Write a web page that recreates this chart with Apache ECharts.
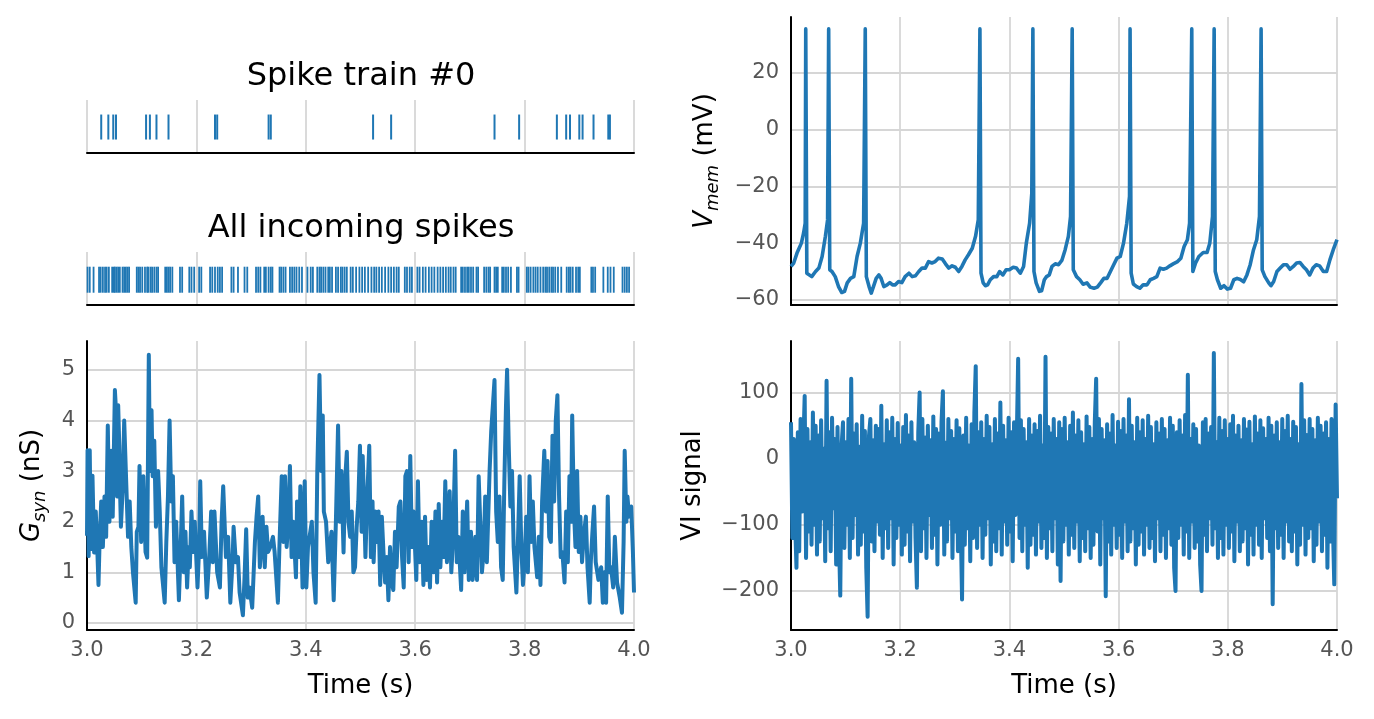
<!DOCTYPE html>
<html><head><meta charset="utf-8">
<script src="https://cdn.jsdelivr.net/npm/echarts@6/dist/echarts.min.js"></script>
<style>html,body{margin:0;padding:0;background:#fff}#c{width:1374px;height:719px}</style>
</head><body><div id="c"></div>
<script>
// ---------- DATA ----------
const xTicks = [3.0, 3.2, 3.4, 3.6, 3.8, 4.0];
const titles = ["Spike train #0", "All incoming spikes"];

const train0 = [3.026, 3.039, 3.048, 3.053, 3.108, 3.115, 3.127, 3.149, 3.234, 3.238, 3.332, 3.336,
  3.523, 3.556, 3.745, 3.790, 3.859, 3.876, 3.883, 3.900, 3.906, 3.926, 3.953, 3.956];

const incoming = [3.001, 3.005, 3.012, 3.022, 3.025, 3.029, 3.033, 3.036, 3.040, 3.046, 3.049, 3.051, 3.054,
  3.057, 3.060, 3.065, 3.068, 3.071, 3.074, 3.077, 3.091, 3.094, 3.097, 3.101, 3.106, 3.110, 3.112, 3.116,
  3.119, 3.123, 3.127, 3.130, 3.143, 3.146, 3.149, 3.152, 3.156, 3.170, 3.174, 3.187, 3.191, 3.196, 3.205,
  3.209, 3.225, 3.229, 3.234, 3.239, 3.243, 3.247,
  3.264, 3.268, 3.276, 3.288, 3.293, 3.309, 3.313, 3.317, 3.324, 3.327, 3.332, 3.336, 3.339, 3.352, 3.355,
  3.359, 3.363, 3.371, 3.375, 3.379, 3.383, 3.388, 3.393, 3.403, 3.409, 3.413, 3.421, 3.425, 3.428, 3.432,
  3.436, 3.441, 3.444, 3.448, 3.455, 3.459, 3.464, 3.467, 3.471, 3.475, 3.482, 3.486, 3.492, 3.498,
  3.503, 3.508, 3.514, 3.520, 3.525, 3.529, 3.534, 3.539, 3.545, 3.551, 3.556, 3.561, 3.566, 3.570, 3.581,
  3.585, 3.590, 3.594, 3.604, 3.608, 3.614, 3.619, 3.625, 3.630, 3.635, 3.641, 3.646, 3.651, 3.656, 3.661,
  3.665, 3.670, 3.674, 3.684, 3.687, 3.691, 3.695, 3.698, 3.702, 3.706, 3.712, 3.715, 3.726, 3.730, 3.734,
  3.737, 3.745, 3.748,
  3.751, 3.759, 3.762, 3.766, 3.770, 3.775, 3.786, 3.789, 3.804, 3.807, 3.811, 3.816, 3.820, 3.824, 3.829,
  3.834, 3.838, 3.841, 3.845, 3.849, 3.852, 3.856, 3.861, 3.867, 3.877, 3.881, 3.884, 3.888, 3.894, 3.898,
  3.901, 3.922, 3.925, 3.929, 3.944, 3.952, 3.957, 3.963, 3.979, 3.983, 3.987, 3.991];

const gsynT = [3.000,3.001,3.003,3.005,3.007,3.010,3.013,3.016,3.019,3.021,3.023,3.026,3.029,3.032,3.035,3.038,3.041,3.044,3.047,3.051,
  3.053,3.055,3.057,3.059,3.060,3.062,3.065,3.068,3.071,3.075,3.078,3.081,3.084,3.089,3.091,3.094,3.096,3.099,3.103,3.107,
  3.110,3.113,3.115,3.118,3.120,3.123,3.126,3.130,3.133,3.136,3.142,3.145,3.148,3.151,3.154,3.157,3.160,3.163,3.168,3.171,
  3.174,3.177,3.180,3.183,3.186,3.188,3.191,3.194,3.197,3.202,3.205,3.207,3.210,3.214,3.219,3.223,3.227,3.230,3.233,3.238,
  3.243,3.246,3.249,3.254,3.258,3.262,3.266,3.268,3.272,3.276,3.279,3.285,3.288,3.291,3.294,3.297,3.302,3.307,3.310,3.313,
  3.316,3.319,3.321,3.325,3.328,3.331,3.335,3.340,3.343,3.349,3.352,3.356,3.359,3.362,3.365,3.368,3.371,3.374,3.377,3.382,
  3.384,3.388,3.390,3.394,3.398,3.401,3.404,3.407,3.411,3.414,3.418,3.421,3.425,3.428,3.431,3.433,3.437,3.441,3.444,3.447,
  3.451,3.455,3.459,3.462,3.465,3.469,3.472,3.475,3.478,3.481,3.484,3.487,3.490,3.493,3.496,3.499,3.502,3.504,3.507,3.509,
  3.512,3.516,3.519,3.522,3.524,3.527,3.530,3.533,3.536,3.539,3.542,3.545,3.548,3.551,3.554,3.557,3.560,3.563,3.566,3.570,
  3.573,3.576,3.579,3.582,3.585,3.588,3.591,3.594,3.597,3.602,3.605,3.608,3.612,3.615,3.618,3.621,3.624,3.627,3.630,3.634,
  3.637,3.640,3.643,3.646,3.649,3.652,3.655,3.658,3.663,3.666,3.669,3.673,3.676,3.679,3.684,3.687,3.690,3.695,3.698,3.702,
  3.705,3.710,3.713,3.716,3.719,3.722,3.725,3.728,3.731,3.736,3.739,3.742,3.745,3.748,3.751,3.754,3.757,3.760,3.763,3.766,
  3.768,3.771,3.774,3.777,3.780,3.785,3.788,3.791,3.794,3.797,3.800,3.803,3.806,3.809,3.812,3.815,3.818,3.823,3.826,3.829,
  3.832,3.836,3.839,3.842,3.845,3.848,3.851,3.854,3.857,3.860,3.863,3.866,3.869,3.873,3.876,3.879,3.882,3.885,3.887,3.890,
  3.893,3.896,3.899,3.902,3.905,3.908,3.912,3.915,3.919,3.921,3.924,3.927,3.930,3.935,3.940,3.943,3.946,3.949,3.952,3.955,
  3.958,3.962,3.965,3.969,3.974,3.978,3.981,3.983,3.986,3.988,3.991,3.995,3.998,4.000];
const gsynV = [1.72,3.41,1.32,3.41,1.46,2.91,1.39,2.2,1.4,0.75,1.6,2.4,1.5,2.5,1.7,3.9,2.0,3.4,2.1,4.6,
  4.2,2.5,4.3,3.5,2.8,1.9,2.6,4.0,3.0,1.7,2.4,1.5,1.0,0.4,1.8,1.9,3.1,1.6,2.9,1.4,
  1.29,5.3,3.0,4.2,2.9,3.6,1.9,3.0,2.2,1.1,0.4,1.6,2.5,4.0,2.4,2.9,1.2,2.0,0.45,1.4,
  2.5,1.0,1.8,0.7,1.5,1.1,2.2,1.4,2.0,0.7,1.5,2.8,1.3,1.8,0.5,1.2,2.2,1.2,2.2,1.0,
  0.7,2.0,2.7,1.3,1.7,0.4,1.2,1.9,1.2,1.3,0.6,0.15,0.9,1.85,0.5,0.7,0.3,1.6,2.1,2.5,
  1.1,1.6,2.1,1.1,1.9,1.4,1.5,1.7,1.4,0.4,1.6,2.9,1.6,2.9,1.5,2.0,3.1,1.3,2.0,0.9,
  2.4,1.3,2.7,0.7,2.8,0.7,1.5,1.5,2.0,1.0,0.4,3.0,4.9,3.0,4.1,2.2,2.0,1.2,1.2,1.8,
  0.45,2.0,3.9,2.0,3.0,1.39,2.85,3.38,2.0,1.7,2.2,1.0,1.1,1.9,2.4,3.5,1.8,3.3,2.2,1.3,
  2.4,3.5,1.3,2.4,1.2,2.2,1.6,2.2,0.75,2.1,1.4,0.8,1.3,0.45,1.5,0.8,0.65,1.8,1.1,2.3,
  2.4,1.3,0.7,2.9,3.0,1.2,3.3,1.5,2.2,0.85,2.8,1.2,2.0,0.75,2.1,0.85,1.5,0.7,2.0,1.0,
  2.2,0.8,2.35,1.1,2.0,1.3,2.8,1.2,2.6,1.0,1.6,3.4,1.2,1.7,0.65,2.2,1.0,2.4,0.85,1.8,
  0.85,1.7,0.85,2.9,2.9,1.0,1.4,2.5,1.2,3.0,3.8,4.3,4.8,2.2,1.6,2.5,1.1,0.85,2.8,4.3,
  5.0,3.5,2.3,3.0,1.5,0.6,1.7,2.9,1.5,0.75,1.2,2.1,1.0,2.9,1.6,2.4,1.5,0.9,1.7,0.75,
  2.4,3.4,2.2,3.2,1.7,1.6,3.7,2.4,4.0,4.5,2.5,1.3,1.4,0.8,2.2,1.2,2.9,2.0,4.1,2.3,
  1.5,3.0,1.4,2.1,1.2,1.7,2.1,1.1,0.4,1.2,1.8,2.3,1.2,0.85,1.1,0.4,1.0,0.4,2.5,1.0,
  1.1,0.7,1.7,0.8,0.5,0.2,1.6,3.4,2.0,2.5,2.1,2.3,1.4,0.6];

const vmemT = [3.000,3.005,3.011,3.019,3.023,3.026,3.027,3.029,3.038,3.045,3.051,3.057,3.063,3.067,3.069,3.071,3.075,3.081,3.087,3.093,
  3.098,3.103,3.109,3.115,3.121,3.127,3.133,3.136,3.138,3.143,3.147,3.151,3.156,3.161,3.165,3.170,3.176,3.181,3.186,3.191,
  3.197,3.203,3.209,3.216,3.222,3.228,3.234,3.240,3.246,3.252,3.258,3.264,3.270,3.277,3.283,3.289,3.295,3.301,3.307,3.313,
  3.319,3.325,3.332,3.338,3.343,3.346,3.348,3.352,3.356,3.360,3.365,3.371,3.377,3.382,3.388,3.394,3.400,3.407,3.413,3.420,
  3.426,3.431,3.437,3.441,3.443,3.445,3.449,3.455,3.459,3.464,3.468,3.473,3.478,3.484,3.490,3.496,3.502,3.508,3.512,3.515,
  3.517,3.523,3.529,3.535,3.542,3.548,3.555,3.561,3.567,3.573,3.579,3.585,3.591,3.597,3.603,3.609,3.615,3.620,3.621,3.623,
  3.627,3.633,3.639,3.645,3.652,3.658,3.664,3.670,3.676,3.682,3.688,3.694,3.700,3.708,3.714,3.720,3.726,3.730,3.734,3.736,
  3.741,3.747,3.755,3.762,3.767,3.772,3.775,3.777,3.781,3.787,3.793,3.799,3.805,3.811,3.817,3.823,3.829,3.835,3.841,3.847,
  3.853,3.858,3.861,3.863,3.868,3.875,3.879,3.884,3.890,3.896,3.902,3.908,3.914,3.920,3.926,3.932,3.938,3.944,3.950,3.956,
  3.962,3.968,3.975,3.981,3.987,3.993,4.000];
const vmemV = [-48.2,-47,-43.5,-40,-36.5,-33,35.5,-50.6,-51.8,-50,-48.8,-44.7,-37.6,-31.8,35.5,-49.4,-50,-51.8,-55.3,-57.4,
  -57,-54,-52.4,-51.8,-44.7,-40,-33,35.5,-51.8,-55.3,-57.6,-55.3,-52.4,-51.2,-52.4,-55.3,-54.7,-53.9,-54.7,-54.7,
  -53.5,-53.9,-51.8,-50.6,-51.8,-51.5,-50,-48.8,-48.8,-46.5,-47,-46.5,-45.3,-45.6,-47.3,-48.8,-48,-48.5,-50,-48.2,
  -45.9,-44.1,-41.8,-37.6,-31.8,35.5,-50.6,-54,-55,-54.7,-52.9,-51.8,-51.8,-50,-51.2,-49.4,-49.4,-48.5,-48.8,-50.6,
  -48.2,-40,-33,-22.5,35.5,-50,-54,-57,-56.8,-52.9,-51.8,-51.2,-48.2,-47.3,-47.6,-46.1,-42.4,-37.6,-30.6,35.5,
  -49.4,-51.8,-52.9,-54.5,-54,-55.5,-55.9,-55.5,-54,-52.4,-52.4,-50,-47.6,-45.3,-44.7,-40,-33,-23.5,35.5,-50.6,
  -54.4,-55.3,-55.9,-54.7,-54.7,-52.9,-52.4,-51.8,-48.8,-49.2,-48.8,-48,-47.3,-46.5,-45.3,-41.2,-38.8,-33,35.5,-50,
  -47,-44.7,-43.3,-43.3,-40,-30.6,35.5,-50,-52.9,-55.9,-55,-56.2,-55.9,-52.9,-52.4,-52.8,-53.6,-51.2,-47.6,-42.4,
  -38.8,-30.6,35.5,-49.4,-51.8,-54,-55,-53.5,-50,-48.8,-47.6,-47.6,-49.2,-48.2,-47,-46.8,-48.2,-49.4,-51.2,-48.8,
  -47.6,-48,-50,-50,-45.9,-42.4,-38.8];

// VI signal, evenly sampled over 3.0 - 4.0 s
const viV = [55,-120,30,-95,-165,40,-140,60,-80,20,95,-150,45,-110,25,-130,70,-100,50,-145,
  35,-125,58,-90,15,-155,118,-105,40,-140,62,-75,30,-160,48,-115,-207,20,55,-135,
  25,-100,60,-150,121,-120,38,-85,52,-145,18,-130,65,-110,42,-165,-239,35,60,-125,
  28,-140,50,-95,45,-115,80,-150,22,-105,58,-135,40,-90,62,-160,30,-120,54,-100,
  20,-145,48,-130,66,-110,35,-155,55,-95,25,-120,-195,40,100,-140,60,-105,32,-150,
  50,-85,28,-135,64,-115,45,-160,38,-100,56,102,-145,24,-125,60,-90,42,-150,30,
  -110,58,-140,46,-95,-213,35,-130,62,-105,20,-155,52,-120,70,140,-135,40,-100,55,
  -150,30,-115,65,-90,48,-160,22,-125,60,-140,38,-105,85,-145,50,-95,28,-130,62,
  -110,40,-155,55,-85,30,151,-120,58,-140,45,-100,25,-165,60,-130,35,-115,52,-145,
  42,-95,65,-135,20,-120,154,-150,48,-105,38,-140,60,-90,30,-160,55,-185,45,-125,
  62,-100,25,-145,50,-115,70,-135,35,-95,58,-155,40,-120,22,-140,64,-105,48,-150,
  30,-130,55,121,-110,60,-160,45,-90,28,-208,52,-125,38,-145,66,-100,20,-135,56,
  -115,42,-150,60,-95,35,-140,90,-125,50,-105,25,-160,62,-130,40,-110,58,-145,30,
  -100,65,-135,48,-120,22,-155,55,-90,38,-140,60,-115,45,-150,28,-105,62,-130,50,
  -165,-200,40,-120,58,-100,35,-145,66,-110,127,-150,30,-95,52,-135,45,-125,20,-160,
  -200,55,-115,60,-140,38,-90,48,-130,160,-105,25,-150,62,-120,42,-145,58,-100,30,
  -135,52,-110,65,-155,35,-95,50,-140,28,-125,60,-105,44,-160,56,-115,22,-145,64,
  -100,38,-130,58,-150,46,-90,30,-120,62,-140,50,-220,35,-105,55,-135,25,-115,60,
  -150,42,-95,65,-125,30,-140,56,-110,48,-160,22,-130,113,-100,58,-145,36,-120,60,
  -105,45,-155,28,-130,62,-95,50,-140,38,-115,55,-165,30,-125,60,-100,-190,82,-60];

// ---------- CHART ----------
const BLUE = '#1f77b4';
const FONT = 'DejaVu Sans';
const GRIDC = '#d6d6d6';
const TICKC = '#555';
const TICKFS = 21;
const LABELFS = 26;
const fmtNum = v => (v < 0 ? '\u2212' + Math.abs(v) : String(v));

const chart = echarts.init(document.getElementById('c'), null, {renderer: 'canvas'});

function xAxisCfg(gridIndex, showLabels, name) {
  return {
    type: 'value', gridIndex, min: xTicks[0], max: xTicks[xTicks.length - 1], interval: 0.2,
    axisLine: {show: true, onZero: false, lineStyle: {color: '#000', width: 2}},
    axisTick: {show: false},
    axisLabel: {show: showLabels, formatter: v => v.toFixed(1), color: TICKC, fontFamily: FONT, fontSize: TICKFS, margin: 10},
    splitLine: {show: true, lineStyle: {color: GRIDC, width: 1.8}},
    name: name || '', nameLocation: 'middle', nameGap: 43,
    nameTextStyle: {color: '#000', fontFamily: FONT, fontSize: LABELFS}
  };
}
function yAxisCfg(gridIndex, min, max, name, gap, rich) {
  return {
    type: 'value', gridIndex, min, max,
    axisLine: {show: true, onZero: false, lineStyle: {color: '#000', width: 2}},
    axisTick: {show: false},
    axisLabel: {formatter: fmtNum, color: TICKC, fontFamily: FONT, fontSize: TICKFS, margin: 12, showMinLabel: false, showMaxLabel: false},
    splitLine: {show: true, showMinLine: false, showMaxLine: false, lineStyle: {color: GRIDC, width: 1.8}},
    name, nameLocation: 'middle', nameGap: gap, nameRotate: 90,
    nameTextStyle: {color: '#000', fontFamily: FONT, fontSize: LABELFS, rich: rich || {}}
  };
}
function rasterY(gridIndex) {
  return {type: 'value', gridIndex, min: 0, max: 1, show: false, splitLine: {show: false}};
}
const richSub = {
  it: {fontStyle: 'italic', fontSize: LABELFS, fontFamily: FONT, color: '#000', lineHeight: 34, verticalAlign: 'middle'},
  sub: {fontStyle: 'italic', fontSize: 18, fontFamily: FONT, color: '#000', lineHeight: 18, verticalAlign: 'bottom', padding: [13, 0, 0, 0]},
  n: {fontSize: LABELFS, fontFamily: FONT, color: '#000', lineHeight: 34, verticalAlign: 'middle'}
};
const titleStyle = {fontFamily: FONT, fontSize: 32, fontWeight: 'normal', color: '#000'};

function lineSeries(ax, data, w) {
  return {type: 'line', xAxisIndex: ax, yAxisIndex: ax, showSymbol: false, symbol: 'none',
    sampling: null, large: false, progressive: 0,
    itemStyle: {color: BLUE}, lineStyle: {color: BLUE, width: w, join: 'round'},
    data, silent: true};
}

const option = {
  animation: false,
  backgroundColor: '#fff',
  title: [
    {text: titles[0], left: 356, top: 56, textAlign: 'center', textStyle: titleStyle},
    {text: titles[1], left: 356, top: 208, textAlign: 'center', textStyle: titleStyle}
  ],
  grid: [
    {left: 87, top: 100, width: 547, height: 53},
    {left: 87, top: 252, width: 547, height: 53},
    {left: 87, top: 341, width: 547, height: 289},
    {left: 791, top: 17, width: 546, height: 288},
    {left: 791, top: 341, width: 546, height: 289}
  ],
  xAxis: [
    xAxisCfg(0, false), xAxisCfg(1, false), xAxisCfg(2, true, 'Time (s)'),
    xAxisCfg(3, false), xAxisCfg(4, true, 'Time (s)')
  ],
  yAxis: [
    rasterY(0), rasterY(1),
    yAxisCfg(2, -0.14, 5.57, '{it|G}{sub|syn}{n| (nS)}', 38, richSub),
    yAxisCfg(3, -61.8, 39.7, '{it|V}{sub|mem}{n| (mV)}', 69, richSub),
    yAxisCfg(4, -259, 178, 'VI signal', 85)
  ],
  series: [
    {type: 'scatter', xAxisIndex: 0, yAxisIndex: 0, symbol: 'rect', symbolSize: [2, 25],
      itemStyle: {color: BLUE, opacity: 1}, data: train0.map(t => [t, 0.49]), silent: true},
    {type: 'scatter', xAxisIndex: 1, yAxisIndex: 1, symbol: 'rect', symbolSize: [1.8, 26],
      itemStyle: {color: BLUE, opacity: 1}, data: incoming.map(t => [t, 0.477]), silent: true},
    lineSeries(2, gsynT.map((t, i) => [t, gsynV[i]]), 4),
    lineSeries(3, vmemT.map((t, i) => [t, vmemV[i]]), 3.6),
    lineSeries(4, viV.map((v, i) => [3 + i / (viV.length - 1), v]), 4)
  ]
};
chart.setOption(option);
</script>
</body></html>
